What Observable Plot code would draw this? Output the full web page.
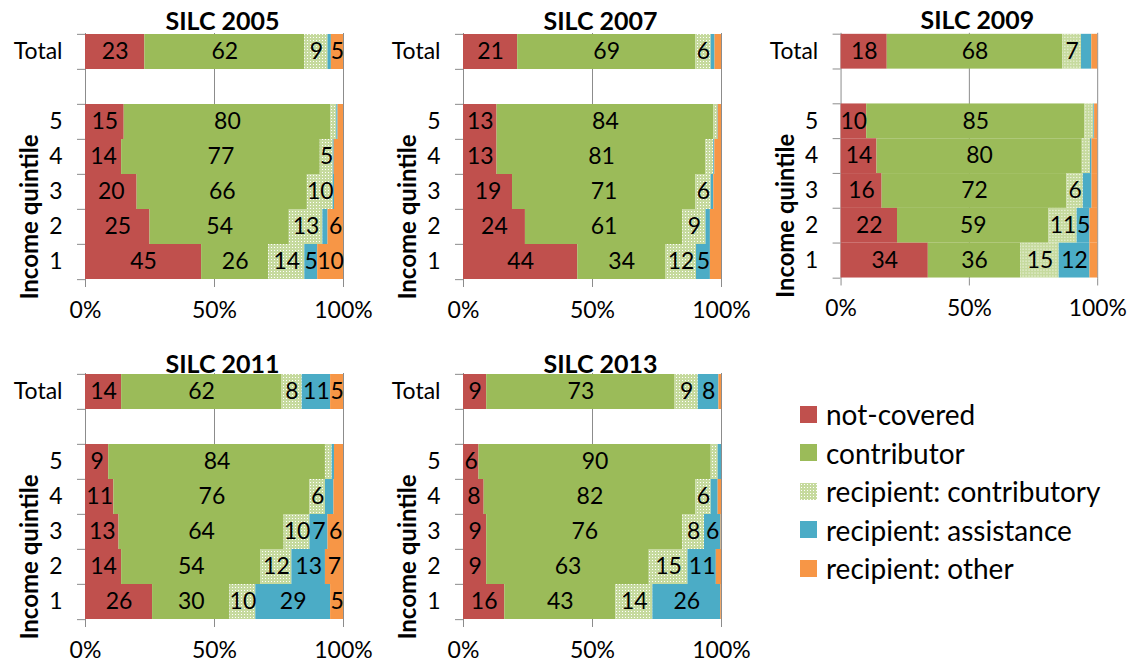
<!DOCTYPE html>
<html>
<head>
<meta charset="utf-8">
<script src="https://cdn.jsdelivr.net/npm/d3@7"></script>
<script src="https://cdn.jsdelivr.net/npm/@observablehq/plot@0.6"></script>
<style>
  body { margin: 0; background: #fff; font-family: Lato, "Open Sans", sans-serif; overflow: hidden; }
  #root { position: relative; width: 1132px; height: 664px; overflow: hidden; }
  .panel { position: absolute; }
  .legend { position: absolute; left: 800px; top: 395px; font-family: Lato, sans-serif; font-size: 28px; color: #000; }
  .legend .item { position: absolute; left: 0; height: 38px; white-space: nowrap; display: flex; align-items: center; }
  .legend .sw { width: 17px; height: 17px; margin-right: 9px; flex: none; }
</style>
</head>
<body>
<div id="root"></div>
<script>
// ---- data (percent of population) ----
const years = [2005, 2007, 2009, 2011, 2013];
const rowLabels = ["Total", "5", "4", "3", "2", "1"];
const categories = ["not-covered", "contributor", "recipient: contributory", "recipient: assistance", "recipient: other"];
const colors = ["#C0504D", "#9BBB59", "PATTERN", "#4BACC6", "#F79646"];

// one array per survey year, in row order: Total, 5, 4, 3, 2, 1
const notCovered = [
  [23, 15, 14, 20, 25, 45],
  [21, 13, 13, 19, 24, 44.3],
  [18, 10, 14, 16, 22, 34],
  [14, 9, 11, 13, 14, 26],
  [9, 6, 8, 9, 9, 16]
];
const contributor = [
  [62, 80, 77, 66, 54, 26],
  [69, 84, 81, 71, 61, 34],
  [68.4, 85, 80, 72, 59, 36],
  [62, 84, 76, 64, 54, 30],
  [73, 90, 82, 76, 63, 43]
];
const recipContributory = [
  [9, 2.4, 5, 10, 13, 14],
  [6, 1.5, 3, 6, 9, 12],
  [7.3, 3.5, 3.2, 6.4, 11, 15],
  [8, 2.6, 6, 10, 12, 10],
  [9, 2.7, 6, 8.4, 15, 14.4]
];
const recipAssistance = [
  [1.3, 0.5, 0.4, 0.5, 2, 5],
  [1.5, 0.2, 0.4, 1, 1.7, 5.4],
  [4, 0.3, 0.6, 3.4, 5, 12],
  [11, 0.9, 3.3, 7, 13, 29],
  [8, 1.3, 2.7, 6.4, 11, 26.3]
];
const recipOther = [
  [4.7, 2.1, 3.6, 3.5, 6, 10],
  [2.5, 1.3, 2.6, 3, 4.3, 4.3],
  [2.3, 1.2, 2.2, 2.2, 3, 3],
  [5, 3.5, 3.7, 6, 7, 5],
  [1, 0, 1.3, 0.2, 2, 0.3]
];
const seriesArrays = [notCovered, contributor, recipContributory, recipAssistance, recipOther];
const xTicks = [0, 50, 100];

// ---- layout ----
const panelPos = [
  {left: 0, top: 0, height: 330, titleDy: -12},
  {left: 378, top: 0, height: 330, titleDy: -12},
  {left: 756, top: 0, height: 330, titleDy: -12},
  {left: 0, top: 340, height: 324, titleDy: -9},
  {left: 378, top: 340, height: 324, titleDy: -9}
];
const rowKeys = ["Total", "gap", ...rowLabels.slice(1)];
const M = {left: 85, right: 35, top: 33};
const plotH = 247;
const bw = plotH / rowKeys.length;
const root = document.getElementById("root");
const dotBase = "#c6da9e";

years.forEach((year, yi) => {
  const pos = panelPos[yi];
  const data = [];
  rowLabels.forEach((row, ri) => {
    categories.forEach((cat, ci) => {
      data.push({row, cat, value: seriesArrays[ci][yi][ri]});
    });
  });
  const patId = "dots" + year;
  const range = colors.map(c => c === "PATTERN" ? `url(#${patId})` : c);
  const fmt = d => d === "gap" ? "" : d;
  const svg = Plot.plot({
    width: 378,
    height: pos.height,
    marginLeft: M.left,
    marginRight: M.right,
    marginTop: M.top,
    marginBottom: pos.height - M.top - plotH,
    style: {fontFamily: "Lato, sans-serif", fontSize: "23px", background: "transparent", overflow: "visible", color: "#000"},
    x: {domain: [0, 100]},
    y: {domain: rowKeys, padding: 0},
    color: {domain: categories, range},
    marks: [
      Plot.ruleX(xTicks, {stroke: "#8c8c8c", strokeWidth: 1}),
      Plot.barX(data, Plot.stackX({x: "value", y: "row", fill: "cat"})),
      Plot.ruleY(rowKeys, {y: d => d, x1: -3.1, x2: 0, dy: -bw / 2, stroke: "#8c8c8c"}),
      Plot.ruleY(rowKeys.slice(-1), {y: d => d, x1: -3.1, x2: 0, dy: bw / 2, stroke: "#8c8c8c"}),
      Plot.text(data, Plot.stackX({
        x: "value", y: "row",
        text: d => Math.round(d.value) >= 5 ? String(Math.round(d.value)) : "",
        fill: "#000", fontSize: 23
      })),
      Plot.axisY({tickSize: 0, tickPadding: 23, tickFormat: fmt, label: null, fontSize: 23, fill: "#000"}),
      Plot.axisX({ticks: xTicks, tickSize: 7, tickPadding: 14, tickFormat: d => d + "%", label: null, stroke: "#8c8c8c", fill: "#000", fontSize: 23}),
      Plot.text(["SILC " + year], {frameAnchor: "top", text: d => d, dx: 8, dy: pos.titleDy, lineAnchor: "middle", fontWeight: "bold", fontSize: 25, fill: "#000"}),
      Plot.text(["Income quintile"], {frameAnchor: "left", text: d => d, dx: -55, dy: 60, rotate: -90, lineAnchor: "middle", textAnchor: "middle", fontWeight: "bold", fontSize: 24, fill: "#000"})
    ]
  });
  // dotted pattern for "recipient: contributory"
  const defs = d3.select(svg).insert("defs", ":first-child");
  const pat = defs.append("pattern").attr("id", patId).attr("patternUnits", "userSpaceOnUse").attr("width", 3).attr("height", 3);
  pat.append("rect").attr("width", 3).attr("height", 3).attr("fill", dotBase).attr("shape-rendering", "crispEdges");
  pat.append("rect").attr("x", 1).attr("y", 1).attr("width", 1).attr("height", 1).attr("fill", "#ffffff").attr("shape-rendering", "crispEdges");
  const wrap = document.createElement("div");
  wrap.className = "panel";
  wrap.style.left = pos.left + "px";
  wrap.style.top = pos.top + "px";
  wrap.appendChild(svg);
  root.appendChild(wrap);
});

// ---- legend ----
const legend = document.createElement("div");
legend.className = "legend";
categories.forEach((cat, i) => {
  const item = document.createElement("div");
  item.className = "item";
  item.style.top = (i * 38.5) + "px";
  const sw = document.createElement("span");
  sw.className = "sw";
  if (colors[i] === "PATTERN") {
    sw.style.backgroundColor = dotBase;
    sw.style.backgroundImage = "radial-gradient(circle, #fff 0.5px, transparent 0.9px)";
    sw.style.backgroundSize = "3px 3px";
  } else {
    sw.style.background = colors[i];
  }
  const tx = document.createElement("span");
  tx.textContent = cat;
  item.appendChild(sw);
  item.appendChild(tx);
  legend.appendChild(item);
});
root.appendChild(legend);
</script>
</body>
</html>
